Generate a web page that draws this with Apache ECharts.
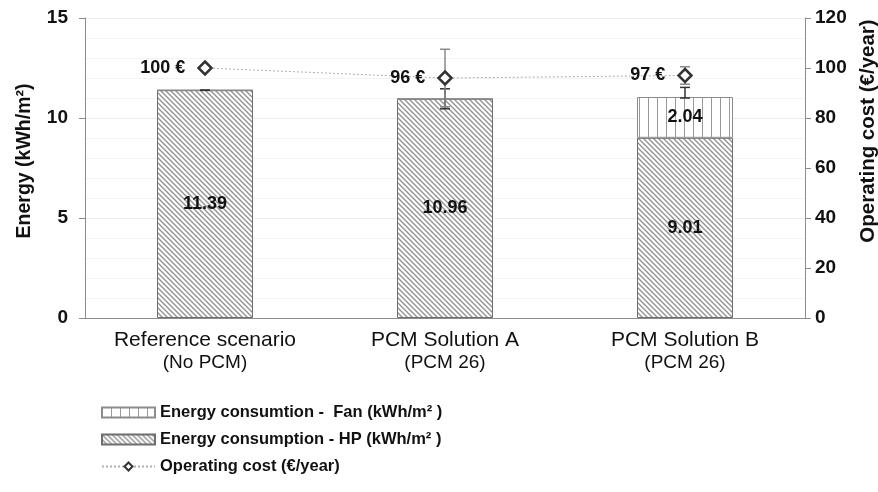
<!DOCTYPE html>
<html>
<head>
<meta charset="utf-8">
<script src="https://cdn.jsdelivr.net/npm/echarts@6/dist/echarts.min.js"></script>
<style>
  html, body { margin: 0; padding: 0; background: #fff; }
  #chart { width: 878px; height: 492px; }
</style>
</head>
<body>
<div id="chart"></div>
<script>
// Scenario names and the second line shown under each one
const categories = ['Reference scenario', 'PCM Solution A', 'PCM Solution B'];
const subLabels = ['(No PCM)', '(PCM 26)', '(PCM 26)'];

// Energy use per scenario (kWh/m²), stacked: heat pump then fan
const hpEnergy = [11.39, 10.96, 9.01];
const fanEnergy = [0, 0, 2.04];

// Annual operating cost (€/year)
const operatingCost = [100, 96, 97];

// Spread shown around the energy totals and around the cost values
const energyLow = [11.39, 10.46, 11.0];
const energyHigh = [11.39, 11.46, 11.53];
const costLow = [100, 84.5, 93.5];
const costHigh = [100, 107.5, 100.5];

// Axis ranges
const energyAxis = { min: 0, max: 15, interval: 5 };
const costAxis = { min: 0, max: 120, interval: 20 };

const FONT = '"Liberation Sans", Arial, sans-serif';

// Hatch fills built on small canvases
function diagonalHatch() {
  const s = 5;
  const c = document.createElement('canvas');
  c.width = s; c.height = s;
  const g = c.getContext('2d');
  g.fillStyle = '#ffffff';
  g.fillRect(0, 0, s, s);
  g.strokeStyle = '#939393';
  g.lineWidth = 1.4;
  g.beginPath();
  g.moveTo(-1, -1); g.lineTo(s + 1, s + 1);
  g.moveTo(-1, s - 1); g.lineTo(1, s + 1);
  g.moveTo(s - 1, -1); g.lineTo(s + 1, 1);
  g.stroke();
  return { image: c, repeat: 'repeat' };
}
function verticalHatch() {
  const c = document.createElement('canvas');
  c.width = 9; c.height = 9;
  const g = c.getContext('2d');
  g.fillStyle = '#ffffff';
  g.fillRect(0, 0, 9, 9);
  g.fillStyle = '#999999';
  g.fillRect(0, 0, 1, 9);
  return { image: c, repeat: 'repeat' };
}

// Error bar drawing: vertical whisker with caps at both ends
function errorBarRenderer(color, lineWidth) {
  return function (params, api) {
    const x = api.value(0);
    const lo = api.coord([x, api.value(1)]);
    const hi = api.coord([x, api.value(2)]);
    const half = 5;
    const style = { stroke: color, lineWidth: lineWidth, fill: null };
    return {
      type: 'group',
      children: [
        { type: 'line', shape: { x1: hi[0], y1: hi[1], x2: lo[0], y2: lo[1] }, style: style },
        { type: 'line', shape: { x1: hi[0] - half, y1: hi[1], x2: hi[0] + half, y2: hi[1] }, style: style },
        { type: 'line', shape: { x1: lo[0] - half, y1: lo[1], x2: lo[0] + half, y2: lo[1] }, style: style }
      ]
    };
  };
}

const chart = echarts.init(document.getElementById('chart'), null, { renderer: 'canvas' });

const barLabel = {
  show: true,
  position: 'inside',
  color: '#111',
  fontFamily: FONT,
  fontWeight: 'bold',
  fontSize: 18
};

chart.setOption({
  animation: false,
  backgroundColor: '#ffffff',
  textStyle: { fontFamily: FONT },
  grid: { left: 85, right: 73, top: 18, bottom: 174, outerBoundsMode: 'none', containLabel: false },
  legend: {
    orient: 'vertical',
    left: 96,
    top: 399,
    itemWidth: 53,
    itemHeight: 10,
    itemGap: 10,
    data: [
      { name: 'Energy consumtion -  Fan (kWh/m² )', icon: 'rect' },
      { name: 'Energy consumption - HP (kWh/m² )', icon: 'rect' },
      { name: 'Operating cost (€/year)' }
    ],
    textStyle: { fontFamily: FONT, fontSize: 16.5, fontWeight: 'bold', color: '#111' }
  },
  xAxis: {
    type: 'category',
    data: categories,
    axisLine: { lineStyle: { color: '#8c8c8c', width: 1 } },
    axisTick: { show: false },
    axisLabel: {
      margin: 11,
      interval: 0,
      formatter: function (v, i) { return '{a|' + v + '}\n{b|' + subLabels[i] + '}'; },
      rich: {
        a: { fontFamily: FONT, fontSize: 21, color: '#111', lineHeight: 23 },
        b: { fontFamily: FONT, fontSize: 19, color: '#111', lineHeight: 22 }
      }
    }
  },
  yAxis: [
    {
      type: 'value',
      min: energyAxis.min,
      max: energyAxis.max,
      interval: energyAxis.interval,
      name: 'Energy (kWh/m²)',
      nameLocation: 'middle',
      nameGap: 50,
      nameTextStyle: {
        fontFamily: FONT, fontSize: 19.5, fontWeight: 'bold', color: '#111',
        padding: [0, 0, 0, 14]
      },
      axisLine: { show: true, lineStyle: { color: '#8c8c8c' } },
      axisTick: { show: true, length: 6, lineStyle: { color: '#8c8c8c' } },
      axisLabel: { fontFamily: FONT, fontSize: 19, fontWeight: 'bold', color: '#111', margin: 17 },
      splitLine: { show: true, lineStyle: { color: '#ececec', width: 1 } },
      minorTick: { show: false, splitNumber: 5 },
      minorSplitLine: { show: true, lineStyle: { color: '#f3f3f3', width: 1 } }
    },
    {
      type: 'value',
      min: costAxis.min,
      max: costAxis.max,
      interval: costAxis.interval,
      name: 'Operating cost (€/year)',
      nameLocation: 'middle',
      nameGap: 49,
      nameRotate: 90,
      nameTextStyle: {
        fontFamily: FONT, fontSize: 20.5, fontWeight: 'bold', color: '#111',
        padding: [0, 0, 0, 74]
      },
      axisLine: { show: true, lineStyle: { color: '#8c8c8c' } },
      axisTick: { show: true, length: 6, lineStyle: { color: '#8c8c8c' } },
      axisLabel: { fontFamily: FONT, fontSize: 19, fontWeight: 'bold', color: '#111', margin: 10 },
      splitLine: { show: false }
    }
  ],
  series: [
    {
      name: 'Energy consumption - HP (kWh/m² )',
      type: 'bar',
      stack: 'energy',
      barWidth: '40%',
      data: hpEnergy,
      itemStyle: { color: diagonalHatch(), borderColor: '#6e6e6e', borderWidth: 1 },
      label: barLabel,
      z: 2
    },
    {
      name: 'Energy consumtion -  Fan (kWh/m² )',
      type: 'bar',
      stack: 'energy',
      barWidth: '40%',
      data: fanEnergy,
      itemStyle: { color: verticalHatch(), borderColor: '#8c8c8c', borderWidth: 1 },
      label: Object.assign({}, barLabel, {
        formatter: function (p) { return p.value > 0 ? p.value.toFixed(2) : ''; }
      }),
      z: 2
    },
    {
      name: 'energy spread',
      type: 'custom',
      renderItem: errorBarRenderer('#333333', 1.5),
      data: categories.map(function (c, i) { return [i, energyLow[i], energyHigh[i]]; }),
      encode: { x: 0, y: [1, 2] },
      z: 5,
      silent: true
    },
    {
      name: 'cost spread',
      type: 'custom',
      yAxisIndex: 1,
      renderItem: errorBarRenderer('#8a8a8a', 1.5),
      data: categories.map(function (c, i) { return [i, costLow[i], costHigh[i]]; }),
      encode: { x: 0, y: [1, 2] },
      z: 6,
      silent: true
    },
    {
      name: 'Operating cost (€/year)',
      type: 'line',
      yAxisIndex: 1,
      data: operatingCost,
      symbol: 'diamond',
      symbolSize: 13,
      lineStyle: { color: '#b0b0b0', width: 1, type: [2, 2] },
      itemStyle: { color: '#ffffff', borderColor: '#333333', borderWidth: 2.5 },
      label: {
        show: true,
        position: 'left',
        distance: 12,
        formatter: '{c} €',
        fontFamily: FONT,
        fontSize: 18,
        fontWeight: 'bold',
        color: '#111'
      },
      z: 8
    }
  ]
});
</script>
</body>
</html>
